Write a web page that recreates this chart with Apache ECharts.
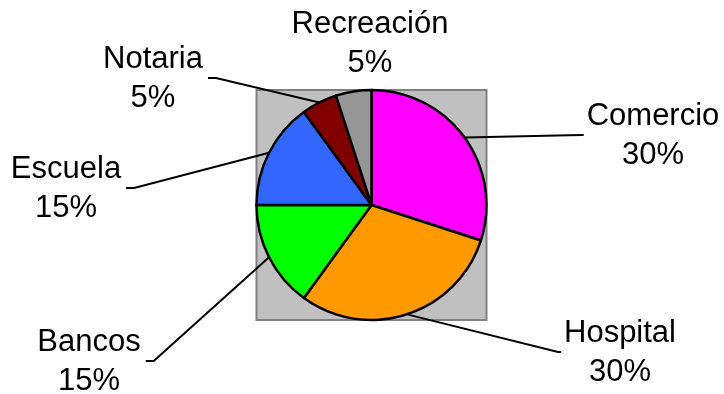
<!DOCTYPE html>
<html>
<head>
<meta charset="utf-8">
<script src="https://cdn.jsdelivr.net/npm/echarts@6/dist/echarts.min.js"></script>
<style>
  html, body { margin: 0; padding: 0; background: #ffffff; }
  #chart { width: 724px; height: 394px; }
</style>
</head>
<body>
<div id="chart"></div>
<script>
// Categories and their shares (percent), clockwise from 12 o'clock
const categories = ['Comercio', 'Hospital', 'Bancos', 'Escuela', 'Notaria', 'Recreación'];
const shares = [30, 30, 15, 15, 5, 5];
const sliceColors = ['#ff00ff', '#ff9900', '#00ff00', '#3366ff', '#800000', '#969696'];

// Label block centres (layout only)
const labelCenters = [
  [653, 136],
  [620, 353],
  [89, 362],
  [66, 189],
  [153, 79],
  [370, 44]
];

const PIE_CX = 371.5, PIE_CY = 205, PIE_R = 115;

const chart = echarts.init(document.getElementById('chart'), null, { renderer: 'canvas' });

const data = categories.map((name, i) => ({
  name: name,
  value: shares[i],
  itemStyle: { color: sliceColors[i] },
  labelLine: { show: name !== 'Recreación' }
}));

chart.setOption({
  animation: false,
  backgroundColor: '#ffffff',
  graphic: [{
    type: 'rect',
    z: -1,
    shape: { x: PIE_CX - PIE_R, y: PIE_CY - PIE_R, width: PIE_R * 2, height: PIE_R * 2 },
    style: { fill: '#c0c0c0', stroke: '#808080', lineWidth: 2 }
  }],
  series: [{
    type: 'pie',
    center: [PIE_CX, PIE_CY],
    radius: PIE_R,
    startAngle: 90,
    clockwise: true,
    avoidLabelOverlap: false,
    data: data,
    itemStyle: { borderColor: '#000000', borderWidth: 2.5 },
    emphasis: { disabled: true },
    label: {
      show: true,
      position: 'outside',
      formatter: '{b}\n{d}%',
      fontFamily: '"Liberation Sans", Arial, sans-serif',
      fontSize: 31,
      lineHeight: 39,
      color: '#000000',
      align: 'center'
    },
    labelLine: {
      show: true,
      lineStyle: { color: '#000000', width: 2 }
    },
    labelLayout: function (params) {
      const i = params.dataIndex;
      const c = labelCenters[i];
      const w = params.labelRect.width;
      const out = { x: c[0], y: c[1], align: 'center', verticalAlign: 'middle' };
      const pts = params.labelLinePoints;
      if (pts && pts.length) {
        const start = pts[0];
        const isLeft = c[0] < PIE_CX;
        const endX = isLeft ? c[0] + w / 2 + 5 : c[0] - w / 2 - 3;
        const elbowX = isLeft ? endX + 8 : endX - 3;
        out.labelLinePoints = [[start[0], start[1]], [elbowX, c[1] - 1], [endX, c[1] - 1]];
      }
      return out;
    }
  }]
});
</script>
</body>
</html>
